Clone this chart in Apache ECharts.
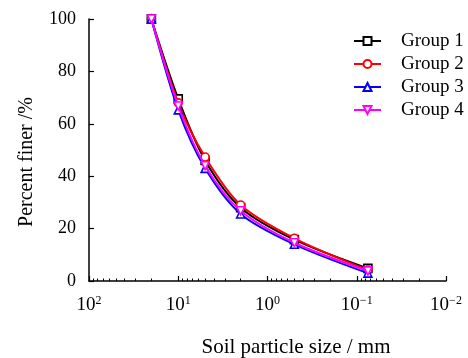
<!DOCTYPE html>
<html>
<head>
<meta charset="utf-8">
<script src="https://cdn.jsdelivr.net/npm/echarts@6/dist/echarts.min.js"></script>
<style>
  html, body { margin: 0; padding: 0; background: #fff; }
  #chart { width: 468px; height: 358px; }
</style>
</head>
<body>
<div id="chart"></div>
<script>
// particle sizes (mm) and percent finer for each group
const sizes = [20, 10, 5, 2, 0.5, 0.075];
const group1 = [100, 69.5, 46, 28, 15.8, 4.8];
const group2 = [100, 68, 47.3, 29, 16.3, 4.2];
const group3 = [100, 65.3, 43, 25.6, 14, 3];
const group4 = [100, 66.8, 44, 26.8, 14.6, 3.8];

const names = ["Group 1", "Group 2", "Group 3", "Group 4"];
const colors = ["#000000", "#ff0000", "#0000ff", "#ff00ff"];
const symbols = ["rect", "circle", "triangle", "triangle"];
const rotations = [0, 0, 0, 180];
const allGroups = [group1, group2, group3, group4];

// log-spaced minor ticks for each decade
const minorTicks = [];
[10, 1, 0.1, 0.01].forEach(d => {
  for (let k = 2; k <= 9; k++) minorTicks.push(+(d * k).toPrecision(3));
});

const FONT = "Liberation Serif";

const chart = echarts.init(document.getElementById("chart"));

const option = {
  animation: false,
  textStyle: { fontFamily: FONT },
  grid: { left: 89, right: 22, top: 19, bottom: 77, outerBoundsMode: "none" },
  legend: {
    orient: "vertical",
    left: 348,
    top: 26,
    itemGap: 3,
    itemWidth: 27,
    itemHeight: 10,
    data: names,
    textStyle: {
      fontFamily: FONT, fontSize: 19, color: "#000",
      lineHeight: 20, padding: [0, 0, 0, 15]
    }
  },
  xAxis: [
    {
      type: "log",
      logBase: 10,
      min: 0.01,
      max: 100,
      inverse: true,
      position: "bottom",
      name: "Soil particle size / mm",
      nameLocation: "middle",
      nameGap: 56,
      nameTextStyle: { fontFamily: FONT, fontSize: 21, color: "#000", padding: [0, 0, 0, 57] },
      axisLine: { lineStyle: { color: "#000", width: 1.5 } },
      axisTick: { inside: true, length: 5, lineStyle: { color: "#000", width: 1.2 } },
      splitLine: { show: false },
      axisLabel: {
        margin: 14,
        color: "#000",
        fontFamily: FONT,
        fontSize: 19,
        formatter: v => {
          const e = Math.round(Math.log10(v));
          return "10{e|" + (e < 0 ? "\u2212" + (-e) : e) + "}";
        },
        rich: {
          e: { fontFamily: FONT, fontSize: 12, color: "#000", padding: [0, 0, 9, 0] }
        }
      }
    },
    {
      type: "log",
      logBase: 10,
      min: 0.01,
      max: 100,
      inverse: true,
      position: "bottom",
      axisLine: { show: false },
      axisLabel: { show: false },
      splitLine: { show: false },
      axisTick: {
        inside: true,
        length: 2.5,
        customValues: minorTicks,
        lineStyle: { color: "#000", width: 1 }
      }
    }
  ],
  yAxis: {
    type: "value",
    min: 0,
    max: 100,
    interval: 20,
    name: "Percent finer /%",
    nameLocation: "middle",
    nameGap: 52,
    nameTextStyle: { fontFamily: FONT, fontSize: 20, color: "#000", padding: [0, 24, 0, 0] },
    axisLine: { show: true, lineStyle: { color: "#000", width: 1.5 } },
    axisTick: { show: true, inside: true, length: 5, lineStyle: { color: "#000", width: 1.2 } },
    splitLine: { show: false },
    axisLabel: { margin: 13, color: "#000", fontFamily: FONT, fontSize: 18 }
  },
  series: allGroups.map((vals, i) => ({
    name: names[i],
    type: "line",
    smooth: 0.3,
    data: sizes.map((s, j) => [s, vals[j]]),
    symbol: symbols[i],
    symbolRotate: rotations[i],
    symbolSize: 8,
    itemStyle: { color: "#ffffff", borderColor: colors[i], borderWidth: 1.6 },
    lineStyle: { color: colors[i], width: 2 },
    z: 2 + i
  }))
};

chart.setOption(option);
</script>
</body>
</html>
